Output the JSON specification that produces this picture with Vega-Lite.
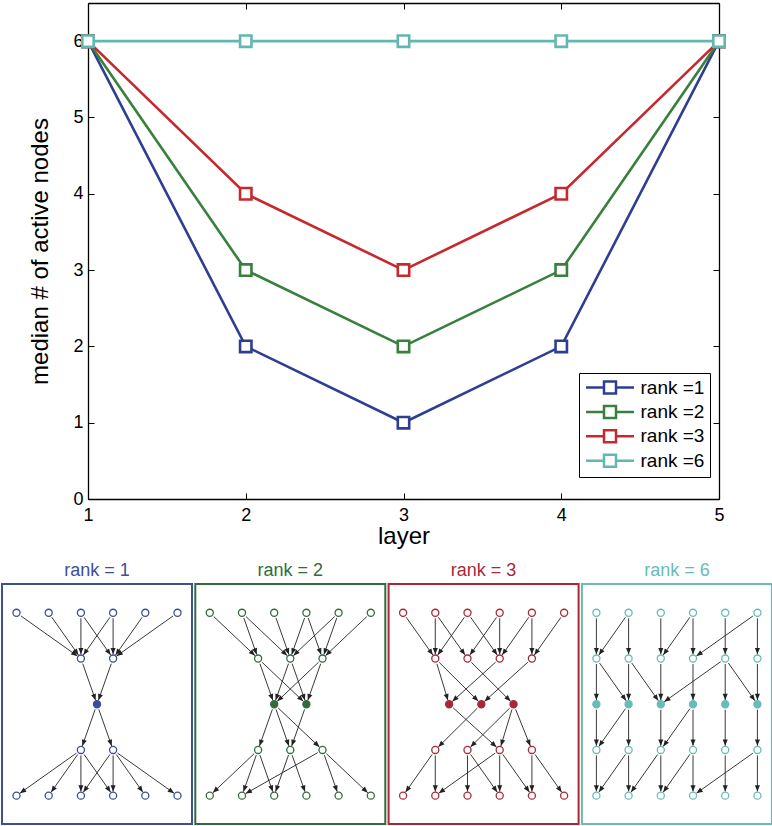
{
"$schema":"https://vega.github.io/schema/vega-lite/v6.json",
"padding":{"left":1,"top":2,"right":0,"bottom":0},
"background":"white",
"config":{"font":"Liberation Sans","view":{"stroke":null},
 "axis":{"labelFont":"Liberation Sans","titleFont":"Liberation Sans","labelColor":"black","titleColor":"black","tickColor":"black","titleFontWeight":"normal","grid":false,"domain":true,"domainColor":"black","domainWidth":1.3,"labelFlush":false,"tickWidth":1},
 "title":{"fontWeight":"normal","font":"Liberation Sans","fontSize":18,"anchor":"middle","offset":4}},
"datasets":{
"lines":[
{"layer":1,"v":6,"s":"rank =1"},{"layer":2,"v":2,"s":"rank =1"},{"layer":3,"v":1,"s":"rank =1"},{"layer":4,"v":2,"s":"rank =1"},{"layer":5,"v":6,"s":"rank =1"},
{"layer":1,"v":6,"s":"rank =2"},{"layer":2,"v":3,"s":"rank =2"},{"layer":3,"v":2,"s":"rank =2"},{"layer":4,"v":3,"s":"rank =2"},{"layer":5,"v":6,"s":"rank =2"},
{"layer":1,"v":6,"s":"rank =3"},{"layer":2,"v":4,"s":"rank =3"},{"layer":3,"v":3,"s":"rank =3"},{"layer":4,"v":4,"s":"rank =3"},{"layer":5,"v":6,"s":"rank =3"},
{"layer":1,"v":6,"s":"rank =6"},{"layer":2,"v":6,"s":"rank =6"},{"layer":3,"v":6,"s":"rank =6"},{"layer":4,"v":6,"s":"rank =6"},{"layer":5,"v":6,"s":"rank =6"}],
"nodes":[
{"p":1,"r":0,"c":0,"f":0},{"p":1,"r":0,"c":1,"f":0},{"p":1,"r":0,"c":2,"f":0},{"p":1,"r":0,"c":3,"f":0},{"p":1,"r":0,"c":4,"f":0},{"p":1,"r":0,"c":5,"f":0},
{"p":1,"r":1,"c":2,"f":0},{"p":1,"r":1,"c":3,"f":0},
{"p":1,"r":2,"c":2.5,"f":1},
{"p":1,"r":3,"c":2,"f":0},{"p":1,"r":3,"c":3,"f":0},
{"p":1,"r":4,"c":0,"f":0},{"p":1,"r":4,"c":1,"f":0},{"p":1,"r":4,"c":2,"f":0},{"p":1,"r":4,"c":3,"f":0},{"p":1,"r":4,"c":4,"f":0},{"p":1,"r":4,"c":5,"f":0},
{"p":2,"r":0,"c":0,"f":0},{"p":2,"r":0,"c":1,"f":0},{"p":2,"r":0,"c":2,"f":0},{"p":2,"r":0,"c":3,"f":0},{"p":2,"r":0,"c":4,"f":0},{"p":2,"r":0,"c":5,"f":0},
{"p":2,"r":1,"c":1.5,"f":0},{"p":2,"r":1,"c":2.5,"f":0},{"p":2,"r":1,"c":3.5,"f":0},
{"p":2,"r":2,"c":2,"f":1},{"p":2,"r":2,"c":3,"f":1},
{"p":2,"r":3,"c":1.5,"f":0},{"p":2,"r":3,"c":2.5,"f":0},{"p":2,"r":3,"c":3.5,"f":0},
{"p":2,"r":4,"c":0,"f":0},{"p":2,"r":4,"c":1,"f":0},{"p":2,"r":4,"c":2,"f":0},{"p":2,"r":4,"c":3,"f":0},{"p":2,"r":4,"c":4,"f":0},{"p":2,"r":4,"c":5,"f":0},
{"p":3,"r":0,"c":0,"f":0},{"p":3,"r":0,"c":1,"f":0},{"p":3,"r":0,"c":2,"f":0},{"p":3,"r":0,"c":3,"f":0},{"p":3,"r":0,"c":4,"f":0},{"p":3,"r":0,"c":5,"f":0},
{"p":3,"r":1,"c":1,"f":0},{"p":3,"r":1,"c":2,"f":0},{"p":3,"r":1,"c":3,"f":0},{"p":3,"r":1,"c":4,"f":0},
{"p":3,"r":2,"c":1.43,"f":1},{"p":3,"r":2,"c":2.43,"f":1},{"p":3,"r":2,"c":3.43,"f":1},
{"p":3,"r":3,"c":1,"f":0},{"p":3,"r":3,"c":2,"f":0},{"p":3,"r":3,"c":3,"f":0},{"p":3,"r":3,"c":4,"f":0},
{"p":3,"r":4,"c":0,"f":0},{"p":3,"r":4,"c":1,"f":0},{"p":3,"r":4,"c":2,"f":0},{"p":3,"r":4,"c":3,"f":0},{"p":3,"r":4,"c":4,"f":0},{"p":3,"r":4,"c":5,"f":0},
{"p":4,"r":0,"c":0,"f":0},{"p":4,"r":0,"c":1,"f":0},{"p":4,"r":0,"c":2,"f":0},{"p":4,"r":0,"c":3,"f":0},{"p":4,"r":0,"c":4,"f":0},{"p":4,"r":0,"c":5,"f":0},
{"p":4,"r":1,"c":0,"f":0},{"p":4,"r":1,"c":1,"f":0},{"p":4,"r":1,"c":2,"f":0},{"p":4,"r":1,"c":3,"f":0},{"p":4,"r":1,"c":4,"f":0},{"p":4,"r":1,"c":5,"f":0},
{"p":4,"r":2,"c":0,"f":1},{"p":4,"r":2,"c":1,"f":1},{"p":4,"r":2,"c":2,"f":1},{"p":4,"r":2,"c":3,"f":1},{"p":4,"r":2,"c":4,"f":1},{"p":4,"r":2,"c":5,"f":1},
{"p":4,"r":3,"c":0,"f":0},{"p":4,"r":3,"c":1,"f":0},{"p":4,"r":3,"c":2,"f":0},{"p":4,"r":3,"c":3,"f":0},{"p":4,"r":3,"c":4,"f":0},{"p":4,"r":3,"c":5,"f":0},
{"p":4,"r":4,"c":0,"f":0},{"p":4,"r":4,"c":1,"f":0},{"p":4,"r":4,"c":2,"f":0},{"p":4,"r":4,"c":3,"f":0},{"p":4,"r":4,"c":4,"f":0},{"p":4,"r":4,"c":5,"f":0}],
"edges":[
{"p":1,"r":0,"a":0,"b":2},{"p":1,"r":0,"a":1,"b":2},{"p":1,"r":0,"a":2,"b":2},{"p":1,"r":0,"a":2,"b":3},{"p":1,"r":0,"a":3,"b":2},{"p":1,"r":0,"a":3,"b":3},{"p":1,"r":0,"a":4,"b":3},{"p":1,"r":0,"a":5,"b":3},
{"p":1,"r":1,"a":2,"b":2.5},{"p":1,"r":1,"a":3,"b":2.5},
{"p":1,"r":2,"a":2.5,"b":2},{"p":1,"r":2,"a":2.5,"b":3},
{"p":1,"r":3,"a":2,"b":0},{"p":1,"r":3,"a":2,"b":1},{"p":1,"r":3,"a":2,"b":2},{"p":1,"r":3,"a":2,"b":3},{"p":1,"r":3,"a":3,"b":2},{"p":1,"r":3,"a":3,"b":3},{"p":1,"r":3,"a":3,"b":4},{"p":1,"r":3,"a":3,"b":5},
{"p":2,"r":0,"a":0,"b":1.5},{"p":2,"r":0,"a":1,"b":1.5},{"p":2,"r":0,"a":1,"b":2.5},{"p":2,"r":0,"a":2,"b":2.5},{"p":2,"r":0,"a":3,"b":2.5},{"p":2,"r":0,"a":3,"b":3.5},{"p":2,"r":0,"a":4,"b":2.5},{"p":2,"r":0,"a":4,"b":3.5},{"p":2,"r":0,"a":5,"b":3.5},
{"p":2,"r":1,"a":1.5,"b":2},{"p":2,"r":1,"a":1.5,"b":3},{"p":2,"r":1,"a":2.5,"b":2},{"p":2,"r":1,"a":2.5,"b":3},{"p":2,"r":1,"a":3.5,"b":2},{"p":2,"r":1,"a":3.5,"b":3},
{"p":2,"r":2,"a":2,"b":1.5},{"p":2,"r":2,"a":2,"b":2.5},{"p":2,"r":2,"a":2,"b":3.5},{"p":2,"r":2,"a":3,"b":2.5},
{"p":2,"r":3,"a":1.5,"b":0},{"p":2,"r":3,"a":1.5,"b":1},{"p":2,"r":3,"a":1.5,"b":2},{"p":2,"r":3,"a":2.5,"b":2},{"p":2,"r":3,"a":2.5,"b":3},{"p":2,"r":3,"a":3.5,"b":1},{"p":2,"r":3,"a":3.5,"b":4},{"p":2,"r":3,"a":3.5,"b":5},
{"p":3,"r":0,"a":0,"b":1},{"p":3,"r":0,"a":1,"b":1},{"p":3,"r":0,"a":1,"b":2},{"p":3,"r":0,"a":2,"b":1},{"p":3,"r":0,"a":2,"b":3},{"p":3,"r":0,"a":3,"b":2},{"p":3,"r":0,"a":3,"b":3},{"p":3,"r":0,"a":4,"b":3},{"p":3,"r":0,"a":4,"b":4},{"p":3,"r":0,"a":5,"b":4},
{"p":3,"r":1,"a":1,"b":1.43},{"p":3,"r":1,"a":1,"b":2.43},{"p":3,"r":1,"a":2,"b":3.43},{"p":3,"r":1,"a":3,"b":1.43},{"p":3,"r":1,"a":4,"b":2.43},
{"p":3,"r":2,"a":1.43,"b":3},{"p":3,"r":2,"a":2.43,"b":1},{"p":3,"r":2,"a":3.43,"b":2},{"p":3,"r":2,"a":3.43,"b":3},{"p":3,"r":2,"a":3.43,"b":4},
{"p":3,"r":3,"a":1,"b":0},{"p":3,"r":3,"a":1,"b":1},{"p":3,"r":3,"a":2,"b":2},{"p":3,"r":3,"a":2,"b":3},{"p":3,"r":3,"a":3,"b":1},{"p":3,"r":3,"a":3,"b":3},{"p":3,"r":3,"a":3,"b":4},{"p":3,"r":3,"a":4,"b":4},{"p":3,"r":3,"a":4,"b":5},
{"p":4,"r":0,"a":0,"b":0},{"p":4,"r":0,"a":1,"b":1},{"p":4,"r":0,"a":2,"b":2},{"p":4,"r":0,"a":3,"b":3},{"p":4,"r":0,"a":4,"b":4},{"p":4,"r":0,"a":5,"b":5},{"p":4,"r":0,"a":1,"b":0},{"p":4,"r":0,"a":3,"b":2},{"p":4,"r":0,"a":5,"b":3},
{"p":4,"r":1,"a":0,"b":0},{"p":4,"r":1,"a":1,"b":1},{"p":4,"r":1,"a":2,"b":2},{"p":4,"r":1,"a":3,"b":3},{"p":4,"r":1,"a":4,"b":4},{"p":4,"r":1,"a":5,"b":5},{"p":4,"r":1,"a":0,"b":1},{"p":4,"r":1,"a":1,"b":2},{"p":4,"r":1,"a":4,"b":2},{"p":4,"r":1,"a":4,"b":5},
{"p":4,"r":2,"a":0,"b":0},{"p":4,"r":2,"a":1,"b":1},{"p":4,"r":2,"a":2,"b":2},{"p":4,"r":2,"a":3,"b":3},{"p":4,"r":2,"a":4,"b":4},{"p":4,"r":2,"a":5,"b":5},{"p":4,"r":2,"a":1,"b":0},{"p":4,"r":2,"a":3,"b":2},
{"p":4,"r":3,"a":0,"b":0},{"p":4,"r":3,"a":1,"b":1},{"p":4,"r":3,"a":2,"b":2},{"p":4,"r":3,"a":3,"b":3},{"p":4,"r":3,"a":4,"b":4},{"p":4,"r":3,"a":5,"b":5},{"p":4,"r":3,"a":1,"b":0},{"p":4,"r":3,"a":2,"b":1},{"p":4,"r":3,"a":3,"b":2},{"p":4,"r":3,"a":5,"b":3}]
},
"vconcat":[
{
 "width":717,"height":496,
 "data":{"name":"lines"},
 "resolve":{"axis":{"x":"independent","y":"independent"}},
 "layer":[
  {"mark":{"type":"line","strokeWidth":2.6},
   "encoding":{
    "x":{"field":"layer","type":"quantitative","scale":{"domain":[1,5],"range":[86,717],"nice":false,"zero":false},
      "axis":{"orient":"bottom","domain":true,"values":[1,2,3,4,5],"tickSize":-6,"labelPadding":13,"labelFontSize":18,"title":"layer","titleFontSize":24,"titlePadding":0}},
    "y":{"field":"v","type":"quantitative","scale":{"domain":[0,6.5],"nice":false,"zero":false},
      "axis":{"orient":"left","offset":-86,"domain":true,"values":[0,1,2,3,4,5,6],"tickSize":-6,"labelPadding":11,"labelFontSize":18,"title":"median # of active nodes","titleFontSize":24,"titlePadding":20}},
    "stroke":{"field":"s","type":"nominal","scale":{"domain":["rank =1","rank =2","rank =3","rank =6"],"range":["#2e3f91","#38803c","#c7282e","#62b8b0"]},
      "legend":{"orient":"none","legendX":577,"legendY":370,"title":null,"symbolType":"M-1,0H-0.25M0.25,0H1M-0.25,-0.25H0.25V0.25H-0.25Z","symbolSize":2304,"symbolStrokeWidth":2.5,"symbolFillColor":"white","clipHeight":18,"rowPadding":5.4,"labelFontSize":19,"labelFont":"Liberation Sans","labelColor":"black","labelOffset":5,"padding":5.5,"strokeColor":"black","fillColor":"white",
        "encode":{"symbols":{"update":{"fill":{"value":"white"},"shape":{"value":"M-1,0H-0.25M0.25,0H1M-0.25,-0.25H0.25V0.25H-0.25Z"},"size":{"value":2304},"strokeWidth":{"value":2.5},"opacity":{"value":1}}}}}}
   }},
  {"mark":{"type":"point","shape":"square","filled":true,"fill":"white","size":130,"strokeWidth":2.6,"opacity":1},
   "encoding":{
    "x":{"field":"layer","type":"quantitative","axis":null},
    "y":{"field":"v","type":"quantitative","axis":null},
    "stroke":{"field":"s","type":"nominal"}
   }},
  {"mark":{"type":"point","opacity":0},
   "encoding":{
    "x":{"field":"layer","type":"quantitative","axis":{"orient":"top","domain":true,"values":[1,2,3,4,5],"tickSize":-6,"labels":false,"title":null}},
    "y":{"field":"v","type":"quantitative","axis":{"orient":"right","domain":true,"values":[0,1,2,3,4,5,6],"tickSize":-6,"labels":false,"title":null}}
   }}
 ]
},
{
 "spacing":1.3,
 "hconcat":[
  {"width":190,"height":240,
   "title":{"text":"rank = 1","color":"#3e4f96"},
   "view":{"stroke":"#3e4f96","strokeWidth":2},
   "layer":[
    {"data":{"name":"edges"},
     "transform":[{"filter":"datum.p == 1"},{"calculate":"(datum.b - datum.a) * 32.2","as":"dx"},{"calculate":"sqrt(datum.dx * datum.dx + 45.7 * 45.7)","as":"L"},{"calculate":"datum.a + (datum.b - datum.a) * 5.5 / datum.L","as":"x1"},{"calculate":"datum.r + 5.5 / datum.L","as":"y1"},{"calculate":"datum.b - (datum.b - datum.a) * 4.2 / datum.L","as":"x2"},{"calculate":"datum.r + 1 - 4.2 / datum.L","as":"y2"},{"calculate":"atan2(datum.dx, -45.7) * 180 / PI","as":"ang"}],
     "layer":[
      {"mark":{"type":"rule","color":"#222222","strokeWidth":0.9},
       "encoding":{"x":{"field":"x1","type":"quantitative","scale":{"domain":[-0.45,5.45],"nice":false,"zero":false},"axis":null},"y":{"field":"y1","type":"quantitative","scale":{"domain":[-0.63,4.62],"nice":false,"zero":false,"reverse":true},"axis":null},"x2":{"field":"x2"},"y2":{"field":"y2"}}},
      {"mark":{"type":"point","shape":"M0,0L0.4,1L-0.4,1Z","filled":true,"color":"#222222","size":160,"opacity":1,"strokeWidth":0},
       "encoding":{"x":{"field":"x2","type":"quantitative","axis":null},"y":{"field":"y2","type":"quantitative","axis":null},"angle":{"field":"ang","type":"quantitative","scale":null}}}
     ]},
    {"data":{"name":"nodes"},"transform":[{"filter":"datum.p == 1"}],
     "mark":{"type":"point","shape":"circle","filled":true,"stroke":"#3b4c9b","strokeWidth":1.3,"size":50,"opacity":1},
     "encoding":{"x":{"field":"c","type":"quantitative","axis":null},"y":{"field":"r","type":"quantitative","axis":null},"fill":{"condition":{"test":"datum.f == 1","value":"#3b4c9b"},"value":"white"}}}
   ]},
  {"width":190,"height":240,
   "title":{"text":"rank = 2","color":"#316c3c"},
   "view":{"stroke":"#316c3c","strokeWidth":2},
   "layer":[
    {"data":{"name":"edges"},
     "transform":[{"filter":"datum.p == 2"},{"calculate":"(datum.b - datum.a) * 32.2","as":"dx"},{"calculate":"sqrt(datum.dx * datum.dx + 45.7 * 45.7)","as":"L"},{"calculate":"datum.a + (datum.b - datum.a) * 5.5 / datum.L","as":"x1"},{"calculate":"datum.r + 5.5 / datum.L","as":"y1"},{"calculate":"datum.b - (datum.b - datum.a) * 4.2 / datum.L","as":"x2"},{"calculate":"datum.r + 1 - 4.2 / datum.L","as":"y2"},{"calculate":"atan2(datum.dx, -45.7) * 180 / PI","as":"ang"}],
     "layer":[
      {"mark":{"type":"rule","color":"#222222","strokeWidth":0.9},
       "encoding":{"x":{"field":"x1","type":"quantitative","scale":{"domain":[-0.45,5.45],"nice":false,"zero":false},"axis":null},"y":{"field":"y1","type":"quantitative","scale":{"domain":[-0.63,4.62],"nice":false,"zero":false,"reverse":true},"axis":null},"x2":{"field":"x2"},"y2":{"field":"y2"}}},
      {"mark":{"type":"point","shape":"M0,0L0.4,1L-0.4,1Z","filled":true,"color":"#222222","size":160,"opacity":1,"strokeWidth":0},
       "encoding":{"x":{"field":"x2","type":"quantitative","axis":null},"y":{"field":"y2","type":"quantitative","axis":null},"angle":{"field":"ang","type":"quantitative","scale":null}}}
     ]},
    {"data":{"name":"nodes"},"transform":[{"filter":"datum.p == 2"}],
     "mark":{"type":"point","shape":"circle","filled":true,"stroke":"#316c3c","strokeWidth":1.3,"size":50,"opacity":1},
     "encoding":{"x":{"field":"c","type":"quantitative","axis":null},"y":{"field":"r","type":"quantitative","axis":null},"fill":{"condition":{"test":"datum.f == 1","value":"#316c3c"},"value":"white"}}}
   ]},
  {"width":190,"height":240,
   "title":{"text":"rank = 3","color":"#a8283a"},
   "view":{"stroke":"#a8283a","strokeWidth":2},
   "layer":[
    {"data":{"name":"edges"},
     "transform":[{"filter":"datum.p == 3"},{"calculate":"(datum.b - datum.a) * 32.2","as":"dx"},{"calculate":"sqrt(datum.dx * datum.dx + 45.7 * 45.7)","as":"L"},{"calculate":"datum.a + (datum.b - datum.a) * 5.5 / datum.L","as":"x1"},{"calculate":"datum.r + 5.5 / datum.L","as":"y1"},{"calculate":"datum.b - (datum.b - datum.a) * 4.2 / datum.L","as":"x2"},{"calculate":"datum.r + 1 - 4.2 / datum.L","as":"y2"},{"calculate":"atan2(datum.dx, -45.7) * 180 / PI","as":"ang"}],
     "layer":[
      {"mark":{"type":"rule","color":"#222222","strokeWidth":0.9},
       "encoding":{"x":{"field":"x1","type":"quantitative","scale":{"domain":[-0.45,5.45],"nice":false,"zero":false},"axis":null},"y":{"field":"y1","type":"quantitative","scale":{"domain":[-0.63,4.62],"nice":false,"zero":false,"reverse":true},"axis":null},"x2":{"field":"x2"},"y2":{"field":"y2"}}},
      {"mark":{"type":"point","shape":"M0,0L0.4,1L-0.4,1Z","filled":true,"color":"#222222","size":160,"opacity":1,"strokeWidth":0},
       "encoding":{"x":{"field":"x2","type":"quantitative","axis":null},"y":{"field":"y2","type":"quantitative","axis":null},"angle":{"field":"ang","type":"quantitative","scale":null}}}
     ]},
    {"data":{"name":"nodes"},"transform":[{"filter":"datum.p == 3"}],
     "mark":{"type":"point","shape":"circle","filled":true,"stroke":"#a8283a","strokeWidth":1.3,"size":50,"opacity":1},
     "encoding":{"x":{"field":"c","type":"quantitative","axis":null},"y":{"field":"r","type":"quantitative","axis":null},"fill":{"condition":{"test":"datum.f == 1","value":"#a8283a"},"value":"white"}}}
   ]},
  {"width":190,"height":240,
   "title":{"text":"rank = 6","color":"#67bcb4"},
   "view":{"stroke":"#67bcb4","strokeWidth":2},
   "layer":[
    {"data":{"name":"edges"},
     "transform":[{"filter":"datum.p == 4"},{"calculate":"(datum.b - datum.a) * 32.2","as":"dx"},{"calculate":"sqrt(datum.dx * datum.dx + 45.7 * 45.7)","as":"L"},{"calculate":"datum.a + (datum.b - datum.a) * 5.5 / datum.L","as":"x1"},{"calculate":"datum.r + 5.5 / datum.L","as":"y1"},{"calculate":"datum.b - (datum.b - datum.a) * 4.2 / datum.L","as":"x2"},{"calculate":"datum.r + 1 - 4.2 / datum.L","as":"y2"},{"calculate":"atan2(datum.dx, -45.7) * 180 / PI","as":"ang"}],
     "layer":[
      {"mark":{"type":"rule","color":"#222222","strokeWidth":0.9},
       "encoding":{"x":{"field":"x1","type":"quantitative","scale":{"domain":[-0.45,5.45],"nice":false,"zero":false},"axis":null},"y":{"field":"y1","type":"quantitative","scale":{"domain":[-0.63,4.62],"nice":false,"zero":false,"reverse":true},"axis":null},"x2":{"field":"x2"},"y2":{"field":"y2"}}},
      {"mark":{"type":"point","shape":"M0,0L0.4,1L-0.4,1Z","filled":true,"color":"#222222","size":160,"opacity":1,"strokeWidth":0},
       "encoding":{"x":{"field":"x2","type":"quantitative","axis":null},"y":{"field":"y2","type":"quantitative","axis":null},"angle":{"field":"ang","type":"quantitative","scale":null}}}
     ]},
    {"data":{"name":"nodes"},"transform":[{"filter":"datum.p == 4"}],
     "mark":{"type":"point","shape":"circle","filled":true,"stroke":"#67bcb4","strokeWidth":1.3,"size":50,"opacity":1},
     "encoding":{"x":{"field":"c","type":"quantitative","axis":null},"y":{"field":"r","type":"quantitative","axis":null},"fill":{"condition":{"test":"datum.f == 1","value":"#67bcb4"},"value":"white"}}}
   ]}
 ]
}
],
"spacing":13
}
